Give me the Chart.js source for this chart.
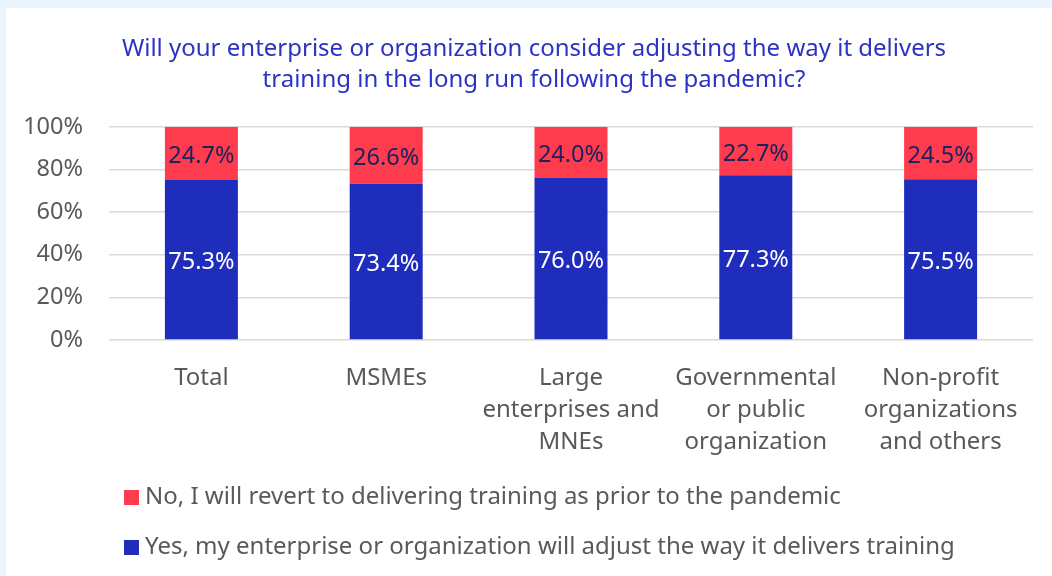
<!DOCTYPE html>
<html>
<head>
<meta charset="utf-8">
<script src="https://cdn.jsdelivr.net/npm/chart.js@4.4.1/dist/chart.umd.min.js"></script>
<style>
  html, body { margin: 0; padding: 0; background: #eaf4fc; }
  #panel { position: absolute; left: 6px; top: 8px; width: 1046px; height: 568px; background: #ffffff; }
  #myChart { display: block; }
</style>
</head>
<body>
<div id="panel"><canvas id="myChart" width="1046" height="568"></canvas></div>
<script>
// categories and shares (%)
const categories = [
  "Total",
  "MSMEs",
  ["Large", "enterprises and", "MNEs"],
  ["Governmental", "or public", "organization"],
  ["Non-profit", "organizations", "and others"]
];
const yesValues = [75.3, 73.4, 76.0, 77.3, 75.5];
const noValues = [24.7, 26.6, 24.0, 22.7, 24.5];
const yesLabel = "Yes, my enterprise or organization will adjust the way it delivers training";
const noLabel = "No, I will revert to delivering training as prior to the pandemic";
const titleLines = [
  "Will your enterprise or organization consider adjusting the way it delivers",
  "training in the long run following the pandemic?"
];
const yTicks = [0, 20, 40, 60, 80, 100];

const RED = "#ff3b4e";
const BLUE = "#1f2dbd";
const FONT = "'Noto Sans', sans-serif";

//////////////////// value labels inside each bar segment ////////////////////
const barLabels = {
  id: "barLabels",
  afterDatasetsDraw(chart) {
    const ctx = chart.ctx;
    ctx.save();
    ctx.font = "23.5px " + FONT;
    ctx.textAlign = "center";
    ctx.textBaseline = "middle";
    chart.data.datasets.forEach((ds, i) => {
      chart.getDatasetMeta(i).data.forEach((bar, j) => {
        const mid = (bar.y + bar.base) / 2;
        ctx.fillStyle = ds.labelColor;
        ctx.fillText(ds.data[j].toFixed(1) + "%", bar.x, mid + 3);
      });
    });
    ctx.restore();
  }
};

//////////////////// title + legend drawn on the canvas ////////////////////
const titleAndLegend = {
  id: "titleAndLegend",
  afterDraw(chart) {
    const ctx = chart.ctx;
    ctx.save();
    ctx.font = "24px " + FONT;
    ctx.fillStyle = "#2a33c4";
    ctx.textAlign = "center";
    ctx.textBaseline = "middle";
    titleLines.forEach((line, i) => {
      ctx.fillText(line, 528, 41 + i * 31);
    });

    // legend: "No" row first, then "Yes"
    const items = [chart.data.datasets[1], chart.data.datasets[0]];
    ctx.textAlign = "left";
    items.forEach((ds, i) => {
      const y = 489 + i * 50;
      ctx.fillStyle = ds.backgroundColor;
      ctx.fillRect(118, y - 7, 15, 15);
      ctx.fillStyle = "#595959";
      ctx.fillText(ds.label, 139, y);
    });
    ctx.restore();
  }
};

const data = {
  labels: categories,
  datasets: [
    { label: yesLabel, data: yesValues, backgroundColor: BLUE, labelColor: "#ffffff" },
    { label: noLabel, data: noValues, backgroundColor: RED, labelColor: "#1b2260" }
  ]
};

const config = {
  type: "bar",
  data: data,
  options: {
    responsive: false,
    animation: false,
    layout: { padding: { top: 119, right: 19, bottom: 0, left: 0 } },
    datasets: { bar: { categoryPercentage: 1, barPercentage: 0.395 } },
    plugins: {
      legend: { display: false },
      title: { display: false },
      tooltip: { enabled: false }
    },
    scales: {
      x: {
        stacked: true,
        afterFit: (scale) => { scale.height = 236; },
        grid: { display: false, drawTicks: false },
        border: { display: false },
        ticks: {
          color: "#595959",
          padding: 22,
          maxRotation: 0,
          autoSkip: false,
          font: { family: FONT, size: 24, lineHeight: 1.333 }
        }
      },
      y: {
        stacked: true,
        min: 0,
        max: 100,
        afterFit: (scale) => { scale.width = 103; },
        afterBuildTicks: (scale) => { scale.ticks = yTicks.map((v) => ({ value: v })); },
        grid: { color: "#d9d9d9", lineWidth: 1.5, drawTicks: false },
        border: { display: false },
        ticks: {
          color: "#595959",
          padding: 26,
          font: { family: FONT, size: 23.5 },
          callback: (v) => v + "%"
        }
      }
    }
  },
  plugins: [barLabels, titleAndLegend]
};

const myChart = new Chart(document.getElementById("myChart"), config);
</script>
</body>
</html>
